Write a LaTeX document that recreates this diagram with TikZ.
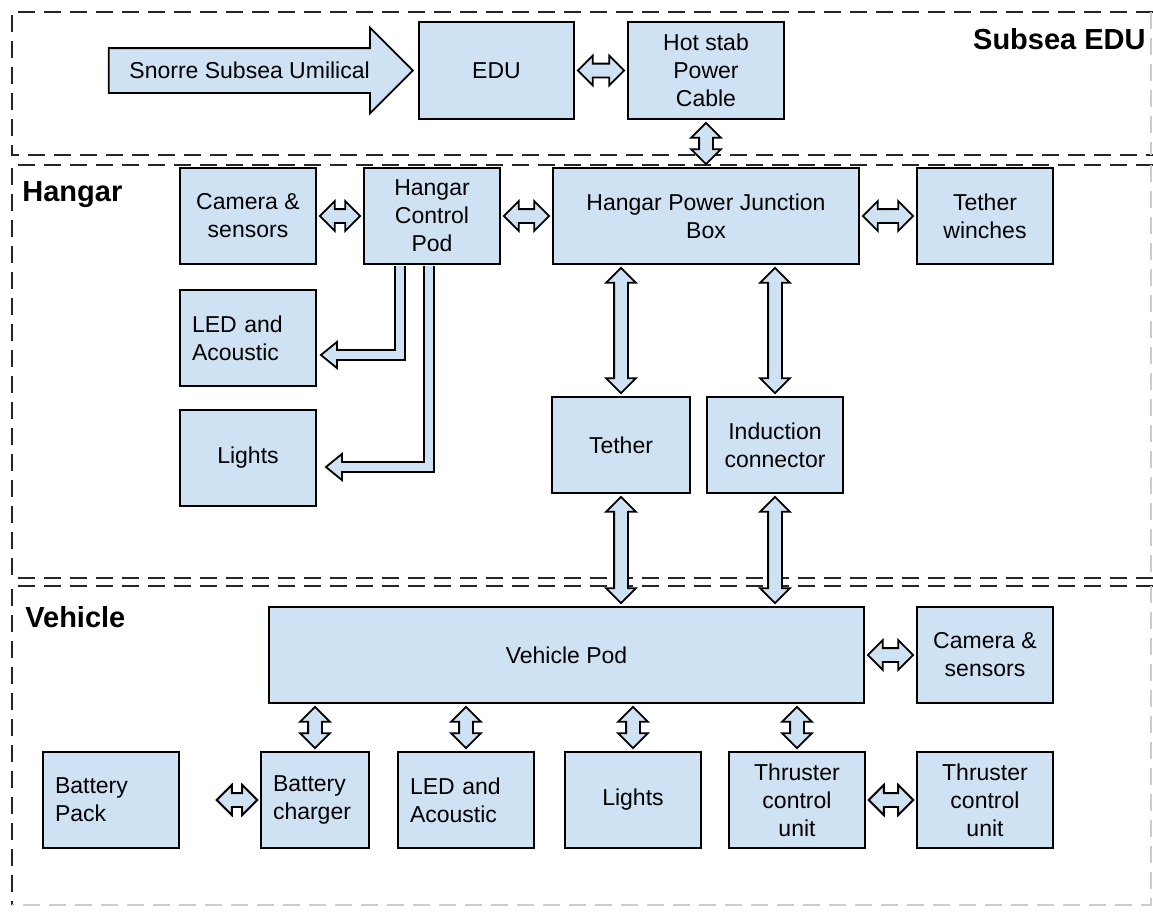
\documentclass[tikz,border=0pt]{standalone}
\usepackage{fontspec}
\setmainfont{Liberation Sans}
\usetikzlibrary{shapes.arrows,calc}
\definecolor{boxblue}{RGB}{207,226,243}
% block double arrow between two points
\newcommand\dblarr[2]{\path let \p1=#1, \p2=#2, \n1={atan2(\y2-\y1,\x2-\x1)}, \n2={veclen(\x2-\x1,\y2-\y1)} in ($(\p1)!.5!(\p2)$) node[dblarrow, rotate=\n1, minimum height={\n2-3pt}] {};}
\begin{document}
\begin{tikzpicture}[x=0.5pt,y=-0.5pt,line join=miter,
	blk/.style 2 args={draw, fill=boxblue, line width=0.9pt, align=center, inner sep=2pt, minimum width=#1, minimum height=#2, font=\fontsize{11.5}{14}\selectfont},
	lblk/.style={blk={68pt}{48pt}, align=left, inner xsep=6pt, text width=#1},
	lbl/.style={inner sep=0pt, font=\fontsize{14.5}{17}\selectfont\bfseries},
	dblarrow/.style={double arrow, draw, fill=boxblue, line width=0.9pt, inner sep=0pt, inner ysep=3pt, double arrow head extend=4pt, minimum width=1pt},
	umbarrow/.style={single arrow, draw, fill=boxblue, line width=0.9pt, single arrow head extend=10.25pt, minimum height=152pt, text height=8pt, text depth=0pt, inner ysep=6.75pt, inner xsep=4pt, font=\fontsize{11.5}{14}\selectfont},
	bentshaft/.style={draw=black, double=boxblue, double distance=4.2pt, line width=0.9pt},
	headtri/.style={draw, fill=boxblue, line width=0.9pt},
	frm/.style={line width=1.4pt, dash pattern=on 8.5pt off 4.5pt, black!85},
	frmfaint/.style={line width=0.8pt, dash pattern=on 8.5pt off 4.5pt, black!20}]
\useasboundingbox (0,0) rectangle (1153,912);
% frames
\draw[frm] (1153,12) -| (12,155) -- (1153,155);
\draw[frm] (1153,165) -| (12,578) -- (1153,578);
\draw[frm] (1153,586) -| (12,905);
\draw[frmfaint] (1151,12) -- (1151,155) (1151,165) -- (1151,578) (1151,586) -- (1151,905) -- (12,905);
\node[lbl, anchor=east] (subsea) at (1146,39) {Subsea EDU};
\node[lbl, anchor=west] (hangar) at (22,195) {Hangar};
\node[lbl, anchor=west] (vehicle) at (25,617) {Vehicle};
% subsea EDU
\node[blk={77.5pt}{48.5pt}] (edu) at (496.5,70.5) {EDU};
\node[blk={78pt}{48.5pt}] (hotstab) at (706,70.5) {Hot stab\\Power\\Cable};
\node[umbarrow, anchor=tip] (umb) at ([xshift=-2pt]edu.west) {Snorre Subsea Umilical};
% hangar
\node[blk={68pt}{48pt}] (hcam) at (248,216) {Camera \&\\sensors};
\node[blk={68pt}{48pt}] (hpod) at (432,216) {Hangar\\Control\\Pod};
\node[blk={153pt}{48pt}] (hpjb) at (706,216) {Hangar Power Junction\\Box};
\node[blk={68pt}{48pt}] (winch) at (985,216) {Tether\\winches};
\node[lblk=56pt] (hled) at (248,338) {LED and\\Acoustic};
\node[blk={68pt}{48pt}] (hlights) at (248,458) {Lights};
\node[blk={69pt}{48pt}] (tether) at (621,445) {Tether};
\node[blk={68pt}{48pt}] (induct) at (775,445) {Induction\\connector};
% vehicle
\node[blk={297.5pt}{48pt}] (vpod) at (566.5,655) {Vehicle Pod};
\node[blk={68pt}{48pt}] (vcam) at (985,655) {Camera \&\\sensors};
\node[lblk=56pt] (bpack) at (111,800) {Battery\\Pack};
\node[blk={54pt}{48pt}, align=left, text width=42pt, inner xsep=6pt] (bcharger) at (315,800) {Battery\\charger};
\node[lblk=56pt] (vled) at (466,800) {LED and\\Acoustic};
\node[blk={68pt}{48pt}] (vlights) at (633,800) {Lights};
\node[blk={68pt}{48pt}] (tcu1) at (797,800) {Thruster\\control\\unit};
\node[blk={68pt}{48pt}] (tcu2) at (985,800) {Thruster\\control\\unit};
% connectors
\dblarr{(edu.east)}{(hotstab.west)}
\dblarr{(hotstab.south)}{(hpjb.north)}
\dblarr{(hcam.east)}{(hpod.west)}
\dblarr{(hpod.east)}{(hpjb.west)}
\dblarr{(hpjb.east)}{(winch.west)}
\dblarr{(tether.north |- hpjb.south)}{(tether.north)}
\dblarr{(induct.north |- hpjb.south)}{(induct.north)}
\dblarr{(tether.south)}{(tether.south |- vpod.north)}
\dblarr{(induct.south)}{(induct.south |- vpod.north)}
\dblarr{(vpod.east)}{(vcam.west)}
\foreach \nm in {bcharger,vled,vlights,tcu1}
	\dblarr{(\nm.north |- vpod.south)}{(\nm.north)}
\dblarr{([xshift=17pt]bpack.east)}{(bcharger.west)}
\dblarr{(tcu1.east)}{(tcu2.west)}
% bent arrows from the control pod
\coordinate (ledtip) at ([xshift=2pt,yshift=-8.5pt]hled.east);
\coordinate (lighttip) at ([xshift=4.5pt,yshift=-4.5pt]hlights.east);
\draw[headtri] (ledtip) -- ++(8pt,6.5pt) -- ++(0,-13pt) -- cycle;
\draw[headtri] (lighttip) -- ++(8pt,6.5pt) -- ++(0,-13pt) -- cycle;
\draw[bentshaft] ([xshift=-16pt,yshift=-0.5pt]hpod.south) |- ([xshift=7.5pt]ledtip);
\draw[bentshaft] ([xshift=-1.5pt,yshift=-0.5pt]hpod.south) |- ([xshift=7.5pt]lighttip);
\end{tikzpicture}
\end{document}
